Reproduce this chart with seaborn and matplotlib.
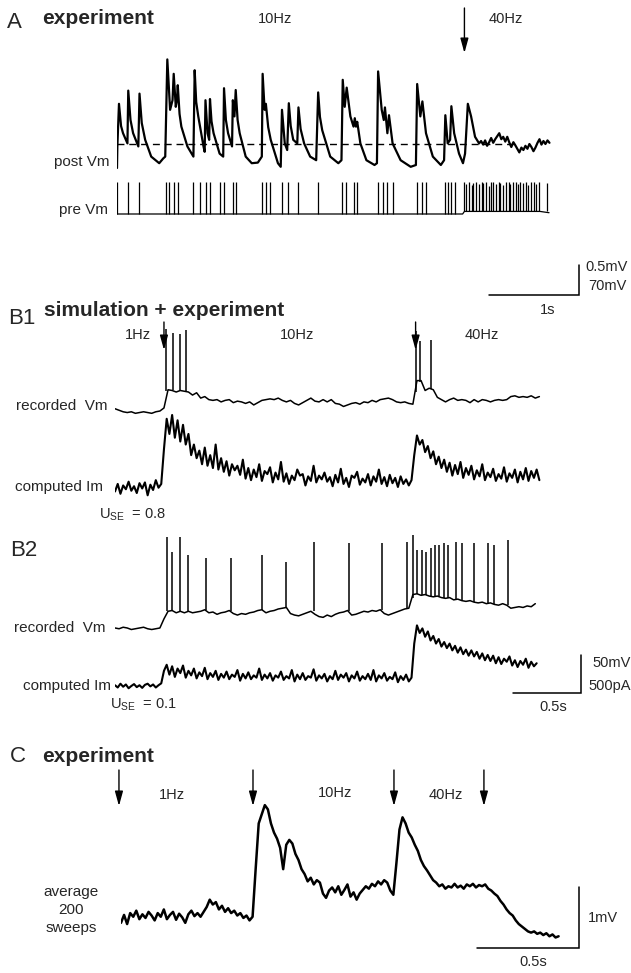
import numpy as np
import matplotlib
matplotlib.use("Agg")
import matplotlib.pyplot as plt
import matplotlib.transforms as mtransforms
import seaborn as sns

W, H = 631, 973

# ---------------- panel A (t in s; post Vm in mV from rest; pre Vm in mV)
a_post = [
    (0.000, -0.40), (0.004, -0.04), (0.022, 0.67), (0.045, 0.30), (0.067, 0.18), (0.116, 0.01),
    (0.125, 0.89), (0.150, 0.40), (0.179, 0.18), (0.237, -0.04), (0.250, 0.84), (0.275, 0.35),
    (0.313, 0.07), (0.380, -0.21), (0.469, -0.32), (0.514, -0.24), (0.536, -0.21), (0.559, 1.41),
    (0.590, 0.57), (0.617, 0.73), (0.630, 1.17), (0.653, 0.62), (0.666, 0.73),
    (0.675, 0.98), (0.695, 0.50), (0.715, 0.29), (0.782, -0.04), (0.849, -0.21), (0.863, 1.23),
    (0.880, 0.70), (0.903, 0.46), (0.961, -0.04), (0.974, -0.13), (0.983, 0.73), (1.006, 0.18),
    (1.024, 0.07), (1.033, 0.75), (1.050, 0.38), (1.073, 0.18), (1.140, -0.16), (1.180, -0.21),
    (1.189, 0.93), (1.210, 0.40), (1.234, 0.18), (1.278, -0.04), (1.287, 0.73), (1.305, 0.46),
    (1.319, 0.90), (1.340, 0.40), (1.363, 0.18), (1.430, -0.21), (1.497, -0.32), (1.565, -0.31),
    (1.609, -0.21), (1.618, 1.17), (1.640, 0.57), (1.654, 0.67), (1.680, 0.28), (1.708, 0.07),
    (1.788, -0.32), (1.819, -0.38), (1.833, 0.57), (1.864, 0.01), (1.891, -0.10),
    (1.909, 0.68), (1.930, 0.30), (1.958, 0.07), (2.003, 0.01), (2.016, 0.61), (2.040, 0.25),
    (2.079, 0.01), (2.146, -0.21), (2.213, -0.27), (2.235, 0.86), (2.255, 0.45), (2.280, 0.23),
    (2.369, -0.21), (2.459, -0.32), (2.494, -0.27), (2.508, 1.07), (2.530, 0.62), (2.552, 0.94),
    (2.593, 0.46), (2.628, 0.29), (2.642, 0.43), (2.655, 0.29), (2.669, 0.37),
    (2.704, 0.01), (2.771, -0.27), (2.861, -0.35), (2.888, -0.32), (2.901, 1.21),
    (2.941, 0.57), (2.964, 0.40), (2.977, 0.61), (3.004, 0.18), (3.022, 0.48),
    (3.062, 0.01), (3.151, -0.27), (3.263, -0.38), (3.321, -0.35), (3.335, 1.00),
    (3.370, 0.46), (3.393, 0.71), (3.433, 0.18), (3.509, -0.21), (3.598, -0.35),
    (3.634, -0.27), (3.648, 0.48), (3.674, 0.01), (3.701, 0.07), (3.715, 0.63),
    (3.746, 0.18), (3.800, -0.16), (3.844, -0.32), (3.867, -0.16), (3.898, 0.67),
    (3.934, 0.46), (3.978, 0.12), (4.023, 0.01), (4.045, 0.05), (4.068, -0.01),
    (4.090, 0.06), (4.112, -0.03), (4.135, 0.03), (4.157, 0.10), (4.180, 0.02),
    (4.202, 0.08), (4.225, 0.13), (4.247, 0.18), (4.270, 0.08), (4.291, 0.12),
    (4.314, 0.04), (4.336, 0.12), (4.360, 0.02), (4.381, -0.05), (4.404, 0.03),
    (4.425, -0.02), (4.448, -0.08), (4.470, -0.14), (4.493, -0.06), (4.515, -0.10),
    (4.538, -0.03), (4.560, -0.08), (4.582, 0.00), (4.604, -0.05), (4.627, -0.12),
    (4.649, -0.06), (4.672, 0.02), (4.694, 0.08), (4.716, -0.01), (4.738, 0.05),
    (4.760, 0.00), (4.783, 0.06), (4.805, 0.02),
]
a_rest_t = [0.0, 4.40]

a_pre_slow_t = [0.000, 0.125, 0.246, 0.545, 0.581, 0.635, 0.675, 0.849, 0.925, 0.988,
                1.028, 1.149, 1.189, 1.287, 1.319, 1.609, 1.654, 1.699, 1.833, 1.904,
                2.012, 2.231, 2.503, 2.548, 2.637, 2.669, 2.897, 2.959, 3.004, 3.062,
                3.330, 3.388, 3.433, 3.639, 3.674, 3.710, 3.755]
a_pre_slow_peak = 10
a_pre_fast_t = [3.86, 3.88, 3.91, 3.94, 3.96, 3.99, 4.02, 4.05, 4.07, 4.10,
                4.13, 4.16, 4.18, 4.21, 4.24, 4.26, 4.29, 4.32, 4.35, 4.37,
                4.40, 4.43, 4.46, 4.48, 4.51, 4.54, 4.57, 4.60, 4.63, 4.66,
                4.69, 4.78]
a_pre_fast_peak = [10, 6, 10, 2, 8, 10, 4, 10, 7, 10, 0, 9, 10, 5, 10, 8,
                   3, 10, 10, 6, 9, 10, 4, 10, 7, 10, 2, 9, 10, 5, 10, 8]
a_pre_base_t = [0.0, 3.84, 3.86, 4.70, 4.80]
a_pre_base_v = [-65, -65, -59, -59, -62]

# ---------------- panel B (t in s; Vm in mV; Im in pA)
b_vm_dt = 0.03
b_im_dt = 0.02

b1_rec_vm = [
    -67, -69, -71, -72, -71, -73, -72, -71, -72, -73,
    -71, -70, -66, -42, -43, -45, -43, -44, -45, -49,
    -46, -53, -51, -55, -56, -55, -58, -56, -55, -59,
    -57, -58, -60, -58, -62, -59, -56, -55, -54, -55,
    -53, -56, -58, -56, -60, -62, -59, -56, -53, -57,
    -58, -55, -58, -55, -60, -61, -64, -62, -60, -59,
    -61, -58, -59, -56, -58, -55, -54, -53, -55, -58,
    -59, -58, -60, -61, -30, -30, -43, -40, -42, -52,
    -55, -58, -55, -53, -56, -55, -56, -59, -55, -58,
    -55, -56, -58, -56, -55, -56, -55, -51, -50, -52,
    -51, -52, -50, -53, -51]
b1_spike_t = [0.378, 0.426, 0.477, 0.524, 2.211, 2.240, 2.326]
b1_spike_tip = [38, 33, 31, 36, 35, 22, 23]
b1_spike_base = [-44, -43, -43, -44, -45, -32, -41]

b1_comp_pa = [
    -60, 40, -90, 20, -30, 70, -50, 10, -80, 50,
    -20, 60, -110, 30, -40, 90, -10, 40, 500, 900,
    700, 950, 650, 880, 600, 820, 560, 700, 420, 560,
    380, 480, 300, 520, 280, 420, 250, 560, 230, 380,
    200, 340, 150, 300, 220, 280, 160, 360, 110, 250,
    90, 230, 130, 300, 80, 210, 170, 260, 60, 190,
    100, 330, 70, 180, 40, 150, 90, 230, 150, 170,
    20, 140, 80, 280, 60, 150, 100, 190, 70, 130,
    10, 160, 60, 240, 40, 120, 0, 150, 120, 200,
    30, 110, 60, 170, 20, 140, 70, 230, 40, 130,
    10, 160, 50, 120, 0, 140, 40, 100, 20, 90,
    420, 680, 560, 620, 460, 540, 380, 470, 300, 400,
    250, 360, 200, 320, 150, 290, 170, 330, 120, 250,
    160, 280, 100, 220, 140, 300, 90, 190, 130, 240,
    80, 170, 110, 260, 70, 180, 120, 230, 60, 200,
    100, 250, 80, 210, 120, 230, 90]

b2_rec_vm = [
    -70, -71, -69, -70, -72, -71, -70, -69, -71, -72,
    -71, -70, -58, -48, -47, -50, -48, -50, -48, -50,
    -49, -48, -46, -50, -49, -52, -50, -49, -47, -51,
    -53, -51, -52, -50, -49, -47, -46, -50, -48, -47,
    -45, -44, -43, -51, -53, -54, -52, -50, -48, -52,
    -55, -56, -53, -55, -52, -50, -49, -47, -53, -52,
    -50, -48, -49, -47, -48, -46, -51, -53, -51, -49,
    -47, -45, -44, -26, -25, -27, -26, -28, -29, -28,
    -30, -31, -30, -33, -32, -34, -35, -34, -36, -37,
    -36, -38, -37, -39, -40, -38, -40, -44, -43, -42,
    -43, -41, -42, -38]
b2_spike_t = [0.38, 0.42, 0.48, 0.54, 0.67, 0.85, 1.08, 1.26, 1.46, 1.72, 1.96, 2.15,
              2.19, 2.22, 2.26, 2.29, 2.32, 2.35, 2.38, 2.42, 2.45, 2.51, 2.55, 2.64,
              2.74, 2.79, 2.89]
b2_spike_tip = [50, 30, 50, 26, 22, 22, 26, 17, 43, 42, 42, 43,
                52, 33, 33, 30, 35, 39, 39, 42, 39, 43, 42, 42, 42, 39, 46]
b2_spike_base = [-48, -47, -48, -48, -46, -47, -46, -43, -48, -47, -46, -44,
                 -30, -25, -27, -26, -28, -29, -28, -31, -30, -32, -34, -36, -38, -39, -40]

b2_comp_pa = [
    10, -20, 30, -10, 20, -30, 0, 25, -15, 10,
    -25, 15, 30, -5, 20, -20, 10, 35, 200, 280,
    150, 260, 120, 230, 170, 270, 110, 200, 140, 230,
    100, 180, 130, 240, 90, 170, 120, 200, 80, 160,
    110, 190, 90, 150, 120, 210, 70, 160, 100, 180,
    90, 140, 110, 230, 80, 150, 100, 170, 70, 140,
    110, 190, 80, 130, 100, 210, 60, 150, 90, 170,
    80, 130, 110, 220, 70, 140, 100, 160, 60, 130,
    90, 200, 80, 150, 110, 170, 60, 140, 100, 190,
    70, 130, 90, 160, 80, 210, 60, 140, 100, 170,
    70, 120, 90, 180, 50, 130, 80, 150, 60, 110,
    560, 800, 700, 760, 650, 720, 600, 660, 560, 620,
    520, 580, 500, 560, 470, 530, 440, 510, 420, 480,
    400, 470, 390, 450, 360, 430, 340, 410, 330, 400,
    300, 380, 290, 360, 320, 390, 270, 340, 250, 330,
    280, 360, 240, 320, 260, 300]

b1_stim_t = [0.36, 2.21]

# ---------------- panel C (average of 200 sweeps, mV)
c_dt = 0.015
c_vm = [
    -0.08, 0.05, -0.10, 0.08, 0.02, 0.12, -0.02, 0.06, 0.00, 0.10,
    0.04, -0.04, 0.08, 0.02, 0.14, -0.02, 0.05, 0.10, -0.03, 0.07,
    0.01, -0.08, 0.06, 0.12, 0.03, 0.08, 0.02, 0.10, 0.18, 0.30,
    0.22, 0.26, 0.14, 0.20, 0.10, 0.16, 0.08, 0.12, 0.04, 0.08,
    0.00, 0.04, -0.04, 0.02, 0.80, 1.55, 1.70, 1.85, 1.78, 1.55,
    1.40, 1.30, 1.15, 0.80, 1.20, 1.28, 1.22, 1.05, 0.95, 0.80,
    0.72, 0.60, 0.66, 0.55, 0.62, 0.58, 0.40, 0.33, 0.45, 0.50,
    0.42, 0.52, 0.38, 0.46, 0.55, 0.35, 0.42, 0.30, 0.40, 0.46,
    0.52, 0.48, 0.56, 0.52, 0.60, 0.55, 0.62, 0.58, 0.45, 0.38,
    0.90, 1.45, 1.65, 1.55, 1.40, 1.32, 1.20, 1.10, 0.95, 0.85,
    0.78, 0.70, 0.62, 0.58, 0.52, 0.55, 0.48, 0.52, 0.50, 0.56,
    0.50, 0.53, 0.48, 0.55, 0.52, 0.56, 0.50, 0.54, 0.52, 0.55,
    0.48, 0.45, 0.40, 0.36, 0.28, 0.22, 0.14, 0.08, 0.04, -0.04,
    -0.10, -0.14, -0.18, -0.22, -0.24, -0.22, -0.26, -0.24, -0.28, -0.25,
    -0.30, -0.27, -0.32, -0.30]
c_stim_t = [-0.01, 0.647, 1.338, 1.779]

# ---------------- figure
sns.set_theme(style="white")
plt.rcParams["font.family"] = ["Liberation Sans", "DejaVu Sans"]
plt.rcParams["mathtext.fontset"] = "custom"
plt.rcParams["mathtext.rm"] = "Liberation Sans"

fig = plt.figure(figsize=(W / 100, H / 100), dpi=100)
ov = fig.add_axes([0, 0, 1, 1])
ov.set_xlim(0, W)
ov.set_ylim(H, 0)
ov.set_axis_off()


def px_axes(left, top, right, bottom, xlim, ylim):
    ax = fig.add_axes([left / W, 1 - bottom / H, (right - left) / W, (bottom - top) / H])
    ax.set_xlim(*xlim)
    ax.set_ylim(*ylim)
    ax.set_axis_off()
    return ax


def trace(ax, t, v, lw):
    sns.lineplot(x=t, y=v, ax=ax, color="black", linewidth=lw,
                 estimator=None, sort=False, legend=False)


def scale_bar(ax, t0, t1, v0, v1):
    ax.plot([t0, t1, t1], [v0, v0, v1], color="black", lw=1.1, clip_on=False,
            solid_joinstyle="miter")


def stim_arrow(ax, t, y0, y1):
    tr = mtransforms.blended_transform_factory(ax.transData, ov.transData)
    ov.annotate("", xy=(t, y1), xytext=(t, y0), xycoords=tr, textcoords=tr,
                arrowprops=dict(arrowstyle="-|>,head_length=0.8,head_width=0.22",
                                color="black", lw=1.0, mutation_scale=11,
                                shrinkA=0, shrinkB=0))


def label(x, y, s, size=11, **kw):
    ov.text(x, y, s, fontsize=size, va="center", **kw)


# ---- A
ax_post = px_axes(117, 50, 579, 180, (0, 5.133), (-0.6, 1.567))
post_t = np.array([p[0] for p in a_post])
post_v = np.array([p[1] for p in a_post])
trace(ax_post, post_t, post_v, 1.6)
ax_post.plot(a_rest_t, [0, 0], color="black", lw=1.0, ls=(0, (5, 3.5)))

ax_pre = px_axes(117, 176, 579, 300, (0, 5.133), (-265.7, 23.67))
trace(ax_pre, np.array(a_pre_base_t), np.array(a_pre_base_v), 0.9)
ax_pre.vlines(a_pre_slow_t, -65, a_pre_slow_peak, color="black", lw=0.9)
ax_pre.vlines(a_pre_fast_t, -59, a_pre_fast_peak, color="black", lw=0.9)
scale_bar(ax_pre, 4.133, 5.133, -254, -184)

label(7, 22, "A", size=16)
label(42, 18, "experiment", size=15, fontweight="bold")
label(258, 19, "10Hz", size=10.5)
label(489, 19, "40Hz", size=10.5)
stim_arrow(ax_post, a_pre_fast_t[0], 8, 53)
label(109, 162, "post Vm", ha="right")
label(108, 210, "pre Vm", ha="right")
label(585, 267, "0.5mV", size=10.5)
label(588, 286, "70mV", size=10.5)
label(548, 310, "1s", size=10.5, ha="center")

# ---- B1
bx = (0, 3.426)
ax_b1v = px_axes(115, 320, 581, 420, bx, (-81.8, 49.7))
trace(ax_b1v, np.arange(len(b1_rec_vm)) * b_vm_dt, np.array(b1_rec_vm), 1.1)
ax_b1v.vlines(b1_spike_t, b1_spike_base, b1_spike_tip, color="black", lw=1.1)

ax_b1i = px_axes(115, 400, 581, 500, bx, (-172, 1148))
trace(ax_b1i, np.arange(len(b1_comp_pa)) * b_im_dt, np.array(b1_comp_pa), 1.5)

label(8, 318, "B1", size=16)
label(44, 310, "simulation + experiment", size=15, fontweight="bold")
label(125, 335, "1Hz", size=10.5)
label(280, 335, "10Hz", size=10.5)
label(465, 335, "40Hz", size=10.5)
for t in b1_stim_t:
    stim_arrow(ax_b1v, t, 322, 350)
label(107, 406, "recorded  Vm", ha="right")
label(103, 487, "computed Im", ha="right")
label(99, 515, r"U$_{\mathrm{SE}}$  = 0.8", size=10.5)

# ---- B2
ax_b2v = px_axes(115, 525, 581, 640, bx, (-85.8, 65.5))
trace(ax_b2v, np.arange(len(b2_rec_vm)) * b_vm_dt, np.array(b2_rec_vm), 1.1)
ax_b2v.vlines(b2_spike_t, b2_spike_base, b2_spike_tip, color="black", lw=1.1)

ax_b2i = px_axes(115, 615, 581, 700, bx, (-185, 937))
trace(ax_b2i, np.arange(len(b2_comp_pa)) * b_im_dt, np.array(b2_comp_pa), 1.5)
scale_bar(ax_b2i, 2.926, 3.426, -92, 408)

label(10, 550, "B2", size=16)
label(105, 628, "recorded  Vm", ha="right")
label(111, 686, "computed Im", ha="right")
label(592, 663, "50mV", size=10.5)
label(588, 686, "500pA", size=10.5)
label(553, 707, "0.5s", size=10.5, ha="center")
label(110, 705, r"U$_{\mathrm{SE}}$  = 0.1", size=10.5)

# ---- C
ax_c = px_axes(121, 795, 579, 955, (0, 2.245), (-0.607, 2.016))
trace(ax_c, np.arange(len(c_vm)) * c_dt, np.array(c_vm), 1.8)
scale_bar(ax_c, 1.745, 2.245, -0.492, 0.508)

label(10, 757, "C", size=16)
label(42, 756, "experiment", size=15, fontweight="bold")
for t in c_stim_t:
    stim_arrow(ax_c, t, 770, 806)
label(159, 795, "1Hz", size=10.5)
label(318, 793, "10Hz", size=10.5)
label(429, 795, "40Hz", size=10.5)
label(71, 892, "average", ha="center")
label(71, 910, "200", ha="center")
label(71, 928, "sweeps", ha="center")
label(588, 918, "1mV", size=10.5)
label(533, 962, "0.5s", size=10.5, ha="center")

fig.savefig("out.png", dpi=100)
plt.close(fig)
